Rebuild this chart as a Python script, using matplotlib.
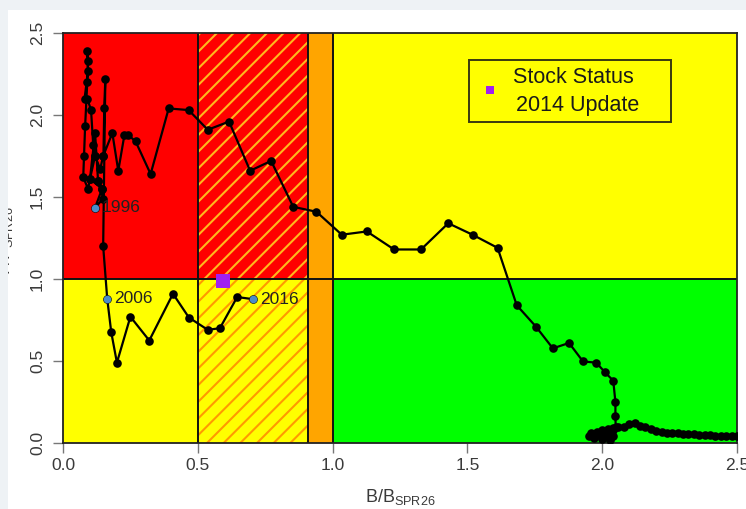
import matplotlib
matplotlib.use("Agg")
import matplotlib.pyplot as plt
from matplotlib.patches import Rectangle

plt.rcParams['font.family'] = ['Liberation Sans', 'DejaVu Sans']
plt.rcParams['mathtext.fontset'] = 'custom'
plt.rcParams['mathtext.rm'] = 'Liberation Sans'
plt.rcParams['mathtext.default'] = 'regular'
plt.rcParams['hatch.linewidth'] = 1.5

# stock trajectory, oldest year first (B/Bspr26, F/Fspr26)
b_ratio = [2.50, 2.48, 2.46, 2.44, 2.42, 2.40, 2.38, 2.36, 2.34, 2.32, 2.30, 2.28,
           2.26, 2.24, 2.22, 2.20, 2.18, 2.16, 2.14, 2.12, 2.10, 2.08, 2.06,
           2.04, 2.02, 2.00, 1.98, 1.96, 1.95, 1.97, 2.00, 2.03, 2.04, 2.02, 1.99,
           2.01, 2.04, 2.05,
           2.049, 2.049, 2.041, 2.011, 1.978, 1.929, 1.877, 1.817, 1.754, 1.683,
           1.612, 1.519, 1.429, 1.328, 1.228, 1.127, 1.034, 0.940, 0.854, 0.772,
           0.694, 0.616, 0.537, 0.466, 0.392, 0.325, 0.269, 0.240, 0.228, 0.205,
           0.183, 0.149, 0.138, 0.119, 0.112, 0.104, 0.090, 0.080, 0.093, 0.090,
           0.093, 0.090, 0.082, 0.078, 0.075, 0.093, 0.100, 0.119, 0.130, 0.145,
           0.119,
           0.149, 0.130, 0.145, 0.100, 0.119, 0.150, 0.153, 0.157, 0.149,
           0.164,
           0.179, 0.200, 0.250, 0.320, 0.408, 0.467, 0.537, 0.582, 0.646,
           0.705]
f_ratio = [0.04, 0.04, 0.045, 0.045, 0.045, 0.05, 0.05, 0.05, 0.055, 0.055, 0.055, 0.06,
           0.06, 0.06, 0.065, 0.075, 0.085, 0.095, 0.105, 0.12, 0.115, 0.10, 0.095,
           0.09, 0.085, 0.08, 0.07, 0.06, 0.045, 0.03, 0.025, 0.02, 0.04, 0.06, 0.05,
           0.035, 0.08, 0.10,
           0.165, 0.25, 0.38, 0.43, 0.49, 0.497, 0.61, 0.577, 0.71, 0.84,
           1.19, 1.27, 1.34, 1.18, 1.18, 1.29, 1.27, 1.41, 1.44, 1.72,
           1.66, 1.96, 1.91, 2.03, 2.04, 1.64, 1.84, 1.88, 1.88, 1.66,
           1.89, 1.75, 1.67, 1.75, 1.82, 2.03, 2.10, 2.10, 2.27, 2.39,
           2.33, 2.20, 1.93, 1.75, 1.62, 1.55, 1.61, 1.89, 1.60, 1.55,
           1.435,
           1.49, 1.60, 1.55, 1.61, 1.75, 1.75, 2.04, 2.22, 1.20,
           0.88,
           0.675, 0.49, 0.77, 0.625, 0.91, 0.765, 0.69, 0.70, 0.89,
           0.877]

label_years = ['1996', '2006', '2016']
label_b = [0.119, 0.164, 0.705]
label_f = [1.435, 0.88, 0.877]

status_b = [0.593]
status_f = [0.99]

# control rule zone edges
b_lim = 0.5
b_buffer = 0.91
b_target = 1.0
f_target = 1.0
x_max = 2.5
y_max = 2.5

RED = '#FF0000'
YELLOW = '#FFFF00'
GREEN = '#00FF00'
ORANGE = '#FFA500'

fig = plt.figure(figsize=(7.46, 5.09), dpi=100)
fig.patch.set_facecolor('white')
ax = fig.add_axes([63 / 746, 66 / 509, 674 / 746, 410 / 509])

ax.add_patch(Rectangle((0, f_target), b_lim, y_max - f_target, facecolor=RED, lw=0, zorder=0))
ax.add_patch(Rectangle((0, 0), b_lim, f_target, facecolor=YELLOW, lw=0, zorder=0))
ax.add_patch(Rectangle((b_lim, f_target), b_buffer - b_lim, y_max - f_target,
                       facecolor=RED, edgecolor='#FFB81E', hatch='//', lw=0, zorder=0))
ax.add_patch(Rectangle((b_lim, 0), b_buffer - b_lim, f_target,
                       facecolor=YELLOW, edgecolor='#FF9A00', hatch='//', lw=0, zorder=0))
ax.add_patch(Rectangle((b_buffer, 0), b_target - b_buffer, y_max, facecolor=ORANGE, lw=0, zorder=0))
ax.add_patch(Rectangle((b_target, f_target), x_max - b_target, y_max - f_target,
                       facecolor=YELLOW, lw=0, zorder=0))
ax.add_patch(Rectangle((b_target, 0), x_max - b_target, f_target, facecolor=GREEN, lw=0, zorder=0))

for xv in (b_lim, b_buffer, b_target):
    ax.axvline(xv, color='#111111', lw=1.4, zorder=1)
ax.axhline(f_target, color='#111111', lw=1.4, zorder=1)

ax.plot(b_ratio, f_ratio, color='black', lw=1.6, marker='o', ms=6.2,
        markeredgewidth=0, zorder=3)
ax.plot(label_b, label_f, 'o', color='#4A8CC8', ms=5.5, markeredgewidth=0, zorder=4)
for yr, xb, yf in zip(label_years, label_b, label_f):
    ax.annotate(yr, (xb, yf), xytext=(5, 0), textcoords='offset points',
                ha='left', va='center', fontsize=12.5, color='#222222', zorder=4)

ax.plot(status_b, status_f, 's', color='#A020F0', ms=10, markeredgewidth=0, zorder=5)

# legend box
ax.add_patch(Rectangle((1.507, 1.957), 0.75, 0.38, facecolor=YELLOW,
                       edgecolor='#3a3a10', lw=1.4, zorder=5))
ax.plot([1.582], [2.153], 's', color='#A020F0', ms=6, markeredgewidth=0, zorder=6)
ax.text(1.892, 2.227, 'Stock Status', ha='center', va='center', fontsize=15.5,
        color='#1a1a1a', zorder=6)
ax.text(1.907, 2.06, '2014 Update', ha='center', va='center', fontsize=15.5,
        color='#1a1a1a', zorder=6)

ax.set_xlim(0, x_max)
ax.set_ylim(0, y_max)
ticks = [0.0, 0.5, 1.0, 1.5, 2.0, 2.5]
ax.set_xticks(ticks)
ax.set_yticks(ticks)
ax.set_xticklabels([f'{t:.1f}' for t in ticks])
ax.set_yticklabels([f'{t:.1f}' for t in ticks], rotation=90, va='center')
ax.tick_params(direction='out', length=7, width=1, color='#777777',
               labelsize=12.5, labelcolor='#3a3a3a')
ax.tick_params(axis='x', pad=4)
ax.tick_params(axis='y', pad=6)
for sp in ax.spines.values():
    sp.set_color('#222222')
    sp.set_linewidth(1.3)

ax.set_xlabel('B/B$_{SPR26}$', fontsize=13, color='#3a3a3a', labelpad=10)
fig.text(15 / 746, 0.528, 'F/F$_{SPR26}$', rotation=90, ha='right', va='center',
         fontsize=13, color='#3a3a3a')

# page margins around the panel
fig.add_artist(Rectangle((0, 1 - 10 / 509), 1, 10 / 509, transform=fig.transFigure,
                         facecolor='#EEF2F5', lw=0, zorder=10))
fig.add_artist(Rectangle((0, 0), 8 / 746, 1, transform=fig.transFigure,
                         facecolor='#EEF2F5', lw=0, zorder=10))

fig.savefig('out.png', dpi=100, facecolor='white')
